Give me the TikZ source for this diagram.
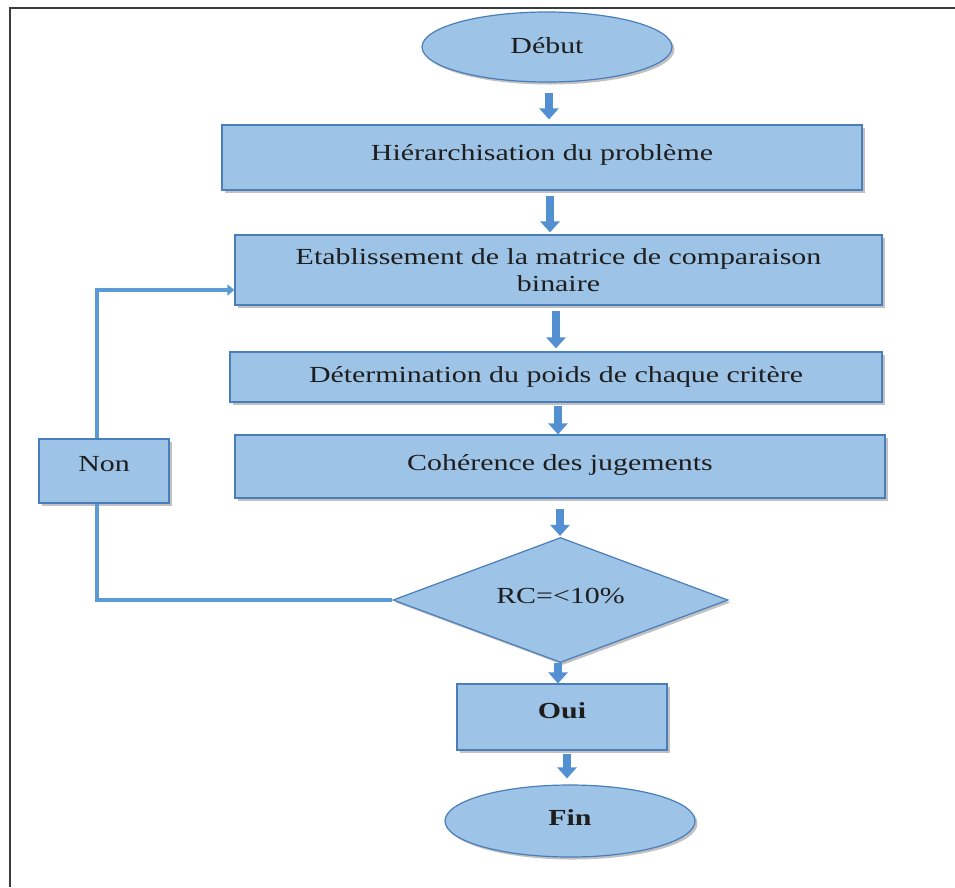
\documentclass[tikz,border=0pt]{standalone}
\usepackage{fontspec}
\setmainfont{Liberation Serif}[FakeStretch=1.3]
\usetikzlibrary{shapes.geometric,arrows.meta,shadows,calc}

\definecolor{boxfill}{HTML}{9DC3E6}
\definecolor{boxline}{HTML}{4A7EBB}
\definecolor{flow}{HTML}{5290D2}
\definecolor{loopblue}{HTML}{5B9BD5}
\definecolor{framegray}{HTML}{3C3C3C}
\definecolor{ink}{HTML}{1E1E1E}

\tikzset{
  softshadow/.style={drop shadow={shadow xshift=2.5pt,shadow yshift=-2.5pt,opacity=0.35,fill=black!70}},
  lift/.style={text height=16pt,text depth=#1},
  stepbox/.style={draw=boxline,line width=1.2pt,fill=boxfill,rectangle,inner sep=0pt,
    text=ink,font=\fontsize{23}{27}\selectfont,align=center,softshadow},
  terminal/.style={stepbox,ellipse},
  decision/.style={stepbox,diamond,aspect=2.68},
  barrow/.style={draw=flow,line width=8pt,-{Triangle[width=19pt,length=11pt]}},
  loopline/.style={draw=loopblue,line width=4pt},
  framerule/.style={draw=framegray,line width=2.5pt},
}

\begin{document}
\begin{tikzpicture}[x=1pt,y=-1pt]
  \useasboundingbox (0,0) rectangle (955,887);

  % page frame (top and left edges)
  \coordinate (fbl) at (10,887);
  \coordinate (ftl) at (10,8);
  \coordinate (ftr) at (955,8);
  \draw[framerule] (fbl) -- (ftl) -- (ftr);

  % flowchart nodes
  \node[terminal,minimum width=250pt,minimum height=70pt,lift=4pt] (debut) at (547,47) {Début};
  \node[stepbox,minimum width=640pt,minimum height=65pt,lift=10pt] (hier) at (542,157.5) {Hiérarchisation du problème};
  \node[stepbox,minimum width=647pt,minimum height=70pt] (etab) at (558.5,270)
    {Etablissement de la matrice de comparaison\\binaire};
  \node[stepbox,minimum width=652pt,minimum height=50pt,lift=5pt] (poids) at (556,377) {Détermination du poids de chaque critère};
  \node[stepbox,minimum width=650pt,minimum height=63pt,lift=9pt] (coh) at (560,466.5) {Cohérence des jugements};
  \node[decision,minimum width=335pt,minimum height=125pt,lift=10pt] (rc) at (560.5,600) {RC=<10\%};
  \node[stepbox,minimum width=210pt,minimum height=66pt,lift=14pt,font=\fontsize{23}{27}\selectfont\bfseries] (oui) at (562,717) {Oui};
  \node[terminal,minimum width=250pt,minimum height=72pt,lift=8pt,font=\fontsize{23}{27}\selectfont\bfseries] (fin) at (570,821) {Fin};
  \node[stepbox,minimum width=130pt,minimum height=64pt,lift=16pt] (non) at (104,471) {Non};

  % main flow
  \draw[barrow,shorten <=10pt,shorten >=5pt] ([xshift=2pt]debut.south) -- ([xshift=2pt]debut.south |- hier.north);
  \draw[barrow,shorten <=5pt,shorten >=2pt] ([xshift=8pt]hier.south) -- ([xshift=8pt]hier.south |- etab.north);
  \draw[barrow,shorten <=5pt,shorten >=3pt] ([xshift=-2.5pt]etab.south) -- ([xshift=-2.5pt]etab.south |- poids.north);
  \draw[barrow,shorten <=3pt,shorten >=0pt] ([xshift=2pt]poids.south) -- ([xshift=2pt]poids.south |- coh.north);
  \draw[barrow,shorten <=10pt,shorten >=1pt] (coh.south) -- (coh.south |- rc.north);
  \draw[barrow,shorten <=0pt,shorten >=0pt] ([xshift=-2.5pt]rc.south) -- ([xshift=-2.5pt]rc.south |- oui.north);
  \draw[barrow,shorten <=3pt,shorten >=6pt] ([xshift=5pt]oui.south) -- ([xshift=5pt]oui.south |- fin.north);

  % feedback loop through "Non"
  \coordinate (loopbot) at (97,600);
  \coordinate (looptop) at (97,290);
  \draw[loopline] (rc.west) -- (loopbot) -- (loopbot |- non.south);
  \draw[loopline,-{Triangle[width=11pt,length=7pt]}] (loopbot |- non.north) -- (looptop) -- (looptop -| etab.west);
\end{tikzpicture}
\end{document}
